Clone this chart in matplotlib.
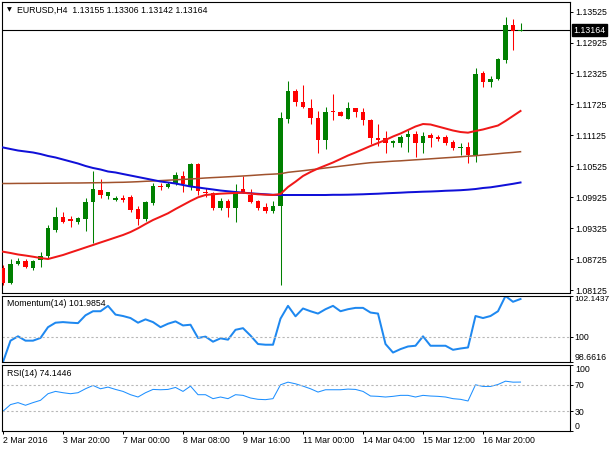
import matplotlib
matplotlib.use('Agg')
import matplotlib.pyplot as plt
import numpy as np

plt.rcParams['font.family'] = ['Liberation Sans', 'DejaVu Sans']

# EURUSD H4, 70 bars (2 Mar 12:00 .. 17 Mar 16:00)
bar_open = [1.08552, 1.08261, 1.08629, 1.08688, 1.08552, 1.08707, 1.08785, 1.09289, 1.09541, 1.09493,
            1.09444, 1.09502, 1.09832, 1.10065, 1.09958, 1.09877, 1.09904, 1.09935, 1.09691, 1.09497,
            1.09819, 1.10143, 1.10129, 1.10195, 1.10342, 1.10117, 1.10569, 1.10032, 1.10001, 1.09722,
            1.09857, 1.09722, 1.10079, 1.09968, 1.09852, 1.09741, 1.09663, 1.09755, 1.11437, 1.11991,
            1.11766, 1.11650, 1.11456, 1.11035, 1.11598, 1.11584, 1.11442, 1.11650, 1.11584, 1.11423,
            1.11068, 1.11068, 1.10983, 1.10983, 1.11087, 1.11151, 1.10971, 1.11132, 1.11084, 1.11087,
            1.11002, 1.10886, 1.10893, 1.10744, 1.12329, 1.12166, 1.12213, 1.12587, 1.13266, 1.13155]
bar_high = [1.08610, 1.08726, 1.08746, 1.08726, 1.08707, 1.08868, 1.09386, 1.09735, 1.09638, 1.09561,
            1.09541, 1.09910, 1.10439, 1.10273, 1.10026, 1.09954, 1.09968, 1.09968, 1.09755, 1.09857,
            1.10195, 1.10207, 1.10220, 1.10420, 1.10439, 1.10583, 1.10589, 1.10104, 1.10026, 1.09904,
            1.09890, 1.10181, 1.10337, 1.10079, 1.09871, 1.09819, 1.09857, 1.11584, 1.12185, 1.12024,
            1.12102, 1.11825, 1.11603, 1.11681, 1.11927, 1.11598, 1.11766, 1.11656, 1.11650, 1.11442,
            1.11345, 1.11210, 1.11035, 1.11132, 1.11229, 1.11215, 1.11196, 1.11165, 1.11132, 1.11132,
            1.11035, 1.10983, 1.11002, 1.12426, 1.12374, 1.12277, 1.12626, 1.13427, 1.13377, 1.13306]
bar_low = [1.08222, 1.08241, 1.08610, 1.08552, 1.08513, 1.08577, 1.08746, 1.09256, 1.09425, 1.09347,
           1.09405, 1.09270, 1.09037, 1.09910, 1.09890, 1.09857, 1.09838, 1.09632, 1.09386, 1.09464,
           1.09774, 1.10065, 1.10104, 1.10162, 1.10032, 1.10065, 1.09968, 1.09935, 1.09677, 1.09677,
           1.09547, 1.09450, 1.10007, 1.09819, 1.09677, 1.09625, 1.09613, 1.08222, 1.11359, 1.11695,
           1.11650, 1.11345, 1.10789, 1.10855, 1.11423, 1.11491, 1.11437, 1.11487, 1.11326, 1.10957,
           1.10919, 1.10789, 1.10905, 1.10905, 1.10808, 1.10711, 1.10777, 1.10905, 1.11021, 1.10938,
           1.10841, 1.10744, 1.10583, 1.10614, 1.12069, 1.12069, 1.12199, 1.12523, 1.12781, 1.13142]
bar_close = [1.08261, 1.08629, 1.08688, 1.08571, 1.08688, 1.08785, 1.09328, 1.09541, 1.09450, 1.09473,
             1.09522, 1.09832, 1.10084, 1.09968, 1.10017, 1.09910, 1.09871, 1.09677, 1.09497, 1.09838,
             1.10143, 1.10114, 1.10176, 1.10356, 1.10176, 1.10569, 1.10036, 1.10001, 1.09716, 1.09852,
             1.09722, 1.10001, 1.10032, 1.09838, 1.09722, 1.09658, 1.09760, 1.11456, 1.11991, 1.11778,
             1.11669, 1.11456, 1.11035, 1.11584, 1.11572, 1.11506, 1.11650, 1.11584, 1.11423, 1.11068,
             1.11035, 1.10983, 1.11006, 1.11099, 1.11151, 1.10983, 1.11113, 1.11068, 1.11054, 1.10983,
             1.10874, 1.10905, 1.10744, 1.12315, 1.12166, 1.12218, 1.12601, 1.13266, 1.13155, 1.13164]

ma_red = [1.08868, 1.08843, 1.08814, 1.08794, 1.08771, 1.08746, 1.08726, 1.08765, 1.08804, 1.08853,
          1.08901, 1.08950, 1.08998, 1.09047, 1.09095, 1.09144, 1.09192, 1.09250, 1.09322, 1.09405,
          1.09483, 1.09547, 1.09613, 1.09696, 1.09774, 1.09852, 1.09923, 1.09968, 1.09982, 1.09993,
          1.10001, 1.10007, 1.10013, 1.09997, 1.09982, 1.09974, 1.09968, 1.09987, 1.10123, 1.10226,
          1.10337, 1.10414, 1.10482, 1.10540, 1.10599, 1.10666, 1.10734, 1.10793, 1.10855, 1.10919,
          1.10977, 1.11035, 1.11103, 1.11161, 1.11229, 1.11297, 1.11345, 1.11336, 1.11297, 1.11258,
          1.11219, 1.11190, 1.11177, 1.11210, 1.11239, 1.11278, 1.11316, 1.11404, 1.11501, 1.11598]
ma_brown = [1.10191, 1.10191, 1.10193, 1.10193, 1.10195, 1.10195, 1.10197, 1.10197, 1.10199, 1.10201,
            1.10201, 1.10203, 1.10205, 1.10207, 1.10209, 1.10213, 1.10215, 1.10220, 1.10226, 1.10234,
            1.10240, 1.10247, 1.10255, 1.10263, 1.10271, 1.10278, 1.10288, 1.10298, 1.10306, 1.10313,
            1.10321, 1.10329, 1.10337, 1.10346, 1.10356, 1.10366, 1.10373, 1.10381, 1.10408, 1.10424,
            1.10439, 1.10457, 1.10474, 1.10492, 1.10509, 1.10527, 1.10544, 1.10562, 1.10579, 1.10595,
            1.10604, 1.10614, 1.10624, 1.10631, 1.10641, 1.10651, 1.10660, 1.10670, 1.10680, 1.10690,
            1.10699, 1.10709, 1.10721, 1.10730, 1.10744, 1.10756, 1.10769, 1.10783, 1.10794, 1.10808]
ma_blue = [1.10890, 1.10860, 1.10831, 1.10812, 1.10793, 1.10763, 1.10725, 1.10696, 1.10657, 1.10618,
           1.10579, 1.10531, 1.10492, 1.10463, 1.10424, 1.10405, 1.10375, 1.10346, 1.10317, 1.10288,
           1.10259, 1.10230, 1.10211, 1.10191, 1.10162, 1.10133, 1.10114, 1.10094, 1.10075, 1.10055,
           1.10040, 1.10026, 1.10013, 1.10001, 1.09991, 1.09982, 1.09972, 1.09968, 1.09968, 1.09968,
           1.09968, 1.09968, 1.09968, 1.09968, 1.09972, 1.09972, 1.09974, 1.09978, 1.09982, 1.09988,
           1.09993, 1.10001, 1.10007, 1.10013, 1.10021, 1.10026, 1.10032, 1.10036, 1.10042, 1.10050,
           1.10055, 1.10061, 1.10071, 1.10084, 1.10104, 1.10117, 1.10139, 1.10162, 1.10185, 1.10211]

momentum = [98.6616, 99.787, 100.017, 99.787, 99.787, 99.931, 100.499, 100.735, 100.767, 100.735,
            100.713, 101.126, 101.340, 101.340, 101.624, 101.163, 101.088, 100.981, 100.735, 100.912,
            100.767, 100.499, 100.681, 100.804, 100.590, 100.628, 99.931, 100.001, 99.733, 99.910,
            99.840, 100.360, 100.446, 100.055, 99.610, 99.573, 99.573, 100.949, 101.624, 101.072,
            101.485, 101.340, 101.217, 101.447, 101.624, 101.340, 101.447, 101.517, 101.517, 101.271,
            101.217, 99.610, 99.160, 99.342, 99.481, 99.519, 100.017, 99.519, 99.519, 99.519,
            99.305, 99.374, 99.428, 101.088, 100.981, 101.088, 101.340, 102.1437, 101.838, 101.9854]
rsi = [30, 40, 43, 39, 43, 46.5, 56.5, 60, 58, 56.5,
       58, 64, 69, 64, 66.5, 63, 60, 55, 51.5, 58,
       63, 62.5, 63, 66, 60, 68, 55, 55, 49, 51.5,
       49, 55, 54, 50, 48, 47.5, 49, 70, 74, 71.5,
       68, 64, 59, 62.5, 62.5, 62.5, 63.5, 63, 60, 53,
       52.5, 51.5, 52.5, 54, 54, 51.5, 54, 53, 52.5, 51.5,
       49, 48, 45.5, 70, 67.5, 67.5, 70.5, 75.5, 74, 74.1446]

time_labels = ['2 Mar 2016', '3 Mar 20:00', '7 Mar 00:00', '8 Mar 08:00', '9 Mar 16:00',
               '11 Mar 00:00', '14 Mar 04:00', '15 Mar 12:00', '16 Mar 20:00']
time_label_bars = [0, 8, 16, 24, 32, 40, 48, 56, 64]
price_ticks = [1.08125, 1.08725, 1.09325, 1.09925, 1.10525, 1.11125, 1.11725, 1.12325, 1.12925, 1.13525]
last_price = 1.13164
mom_ticks = [98.6616, 100, 102.1437]
mom_tick_labels = ['98.6616', '100', '102.1437']
rsi_ticks = [0, 30, 70, 100]

FS = 6.3
W, H = 610, 450
fig = plt.figure(figsize=(W / 100, H / 100), dpi=100)
fig.patch.set_facecolor('white')


def px_axes(x0, y0, x1, y1):
    return fig.add_axes([x0 / W, 1 - y1 / H, (x1 - x0) / W, (y1 - y0) / H])


ax = px_axes(2, 2, 570, 293)
ax_m = px_axes(2, 296, 570, 362)
ax_r = px_axes(2, 365, 570, 431)

x = np.arange(len(bar_open))
o = np.array(bar_open)
c = np.array(bar_close)
colors = np.where(c >= o, '#008000', '#FF0000')

# candles
ax.vlines(x, bar_low, bar_high, colors=colors, lw=0.75, zorder=2)
body_low = np.minimum(o, c)
body_h = np.maximum(np.abs(c - o), 0.00012)
ax.bar(x, body_h, bottom=body_low, width=0.66, color=colors, linewidth=0, zorder=3)

# moving averages
ax.plot(x, ma_brown, color='#A0522D', lw=1.1, zorder=4)
ax.plot(x, ma_blue, color='#1010D8', lw=1.44, zorder=4)
ax.plot(x, ma_red, color='#F01818', lw=1.44, zorder=4)
ax.axhline(last_price, color='black', lw=0.8, zorder=1)

ax.set_ylim(1.08067, 1.13712)
ax.set_yticks(price_ticks)
ax.set_yticklabels([f'{p:.5f}' for p in price_ticks])
ax.annotate(f'{last_price:.5f}', xy=(1, last_price), xycoords=('axes fraction', 'data'),
            xytext=(2.6, 0), textcoords='offset points', ha='left', va='center',
            fontsize=FS, color='white', annotation_clip=False,
            bbox=dict(boxstyle='square,pad=0.18', fc='black', ec='black'))

# momentum
ax_m.plot(x, momentum, color='#1E88F0', lw=1.44)
ax_m.axhline(100, color='#B8B8B8', ls=(0, (2, 2)), lw=0.8)
ax_m.set_ylim(98.6616, 102.1437)
ax_m.set_yticks(mom_ticks)
ax_m.set_yticklabels(mom_tick_labels)

# rsi
ax_r.plot(x, rsi, color='#1E90FF', lw=0.75)
for lvl in (70, 30):
    ax_r.axhline(lvl, color='#B8B8B8', ls=(0, (2, 2)), lw=0.8)
ax_r.set_ylim(0, 100)
ax_r.set_yticks(rsi_ticks)
ax_r.set_yticklabels([str(t) for t in rsi_ticks])

for a in (ax, ax_m, ax_r):
    a.set_xlim(-1 / 7.5, -1 / 7.5 + 568 / 7.5)
    a.yaxis.tick_right()
    a.tick_params(axis='y', direction='out', length=2.2, width=0.7, pad=1.4,
                  labelsize=FS, colors='black')
    for s in a.spines.values():
        s.set_color('black')
        s.set_linewidth(0.8)
    a.set_facecolor('white')

# edge labels of the indicator panels sit inside the panel
for a in (ax_m, ax_r):
    ticks = a.yaxis.get_major_ticks()
    ticks[0].label2.set_va('bottom')
    ticks[-1].label2.set_va('top')
ax_m.tick_params(axis='y', pad=0.9)
ax_m.yaxis.get_major_ticks()[-1].label2.set_fontsize(6.0)

ax.set_xticks([])
ax_m.set_xticks([])
ax_r.set_xticks(time_label_bars)
ax_r.set_xticklabels(time_labels)
ax_r.tick_params(axis='x', direction='out', length=2.2, width=0.7, pad=1.2, labelsize=FS)
for lab in ax_r.get_xticklabels():
    lab.set_ha('left')

# panel captions
fig.text(7 / W, 1 - 10 / H, '\u25bc', fontsize=4.5, family='DejaVu Sans', va='center', ha='left')
fig.text(17 / W, 1 - 10 / H, 'EURUSD,H4  1.13155 1.13306 1.13142 1.13164',
         fontsize=FS, va='center', ha='left')
fig.text(7 / W, 1 - 303 / H, 'Momentum(14) 101.9854', fontsize=FS, va='center', ha='left')
fig.text(7 / W, 1 - 373 / H, 'RSI(14) 74.1446', fontsize=FS, va='center', ha='left')

fig.savefig('out.png', dpi=100, facecolor='white')
